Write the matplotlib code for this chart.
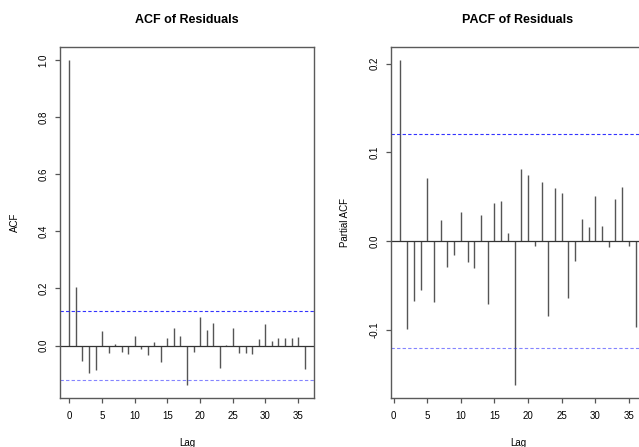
import matplotlib
matplotlib.use("Agg")
import matplotlib.pyplot as plt

plt.rcParams["font.family"] = ["Liberation Sans", "DejaVu Sans"]

# ACF of residuals (lags 0..36)
acf_lags = list(range(0, 37))
acf_vals = [1.0, 0.205, -0.055, -0.097, -0.084, 0.051, -0.026, 0.005, -0.023, -0.030,
            0.033, -0.011, -0.032, 0.013, -0.058, 0.025, 0.061, 0.032, -0.138, -0.022,
            0.101, 0.054, 0.080, -0.080, 0.001, 0.061, -0.027, -0.026, -0.029, 0.022,
            0.075, 0.016, 0.025, 0.025, 0.028, 0.029, -0.081]

# PACF of residuals (lags 1..36)
pacf_lags = list(range(1, 37))
pacf_vals = [0.204, -0.099, -0.067, -0.055, 0.071, -0.069, 0.024, -0.029, -0.016, 0.033,
             -0.024, -0.030, 0.030, -0.071, 0.043, 0.045, 0.009, -0.162, 0.081, 0.075,
             -0.005, 0.067, -0.084, 0.060, 0.054, -0.064, -0.022, 0.025, 0.016, 0.051,
             0.017, -0.007, 0.048, 0.061, -0.005, -0.097]

conf = 0.1205
x_ticks = [0, 5, 10, 15, 20, 25, 30, 35]

W, H = 639, 447
fig = plt.figure(figsize=(W / 100, H / 100), dpi=100)
ax_w, ax_h = 254 / W, 351 / H
ax1 = fig.add_axes([60 / W, 49 / H, ax_w, ax_h])
ax2 = fig.add_axes([391 / W, 49 / H, ax_w, ax_h])


def _r_style(ax, lags, vals, title, ylabel, yticks, ylabels):
    ax.vlines(lags, 0, vals, color="#555555", lw=1.0)
    ax.axhline(0, color="#333333", lw=0.9)
    ax.axhline(conf, color="#3333ff", lw=0.8, ls=(0, (3, 2)))
    ax.axhline(-conf, color="#3333ff", lw=0.8, ls=(0, (3, 2)), alpha=0.6)
    lo = min(min(vals), -conf)
    hi = max(max(vals), conf)
    ex = 0.04 * (hi - lo)
    ax.set_ylim(lo - ex, hi + ex)
    xr = 0.04 * (max(lags) - min(lags))
    ax.set_xlim(min(lags) - xr, max(lags) + xr)
    ax.set_xticks(x_ticks)
    ax.set_yticks(yticks)
    ax.set_yticklabels(ylabels, rotation=90, va="center")
    ax.tick_params(direction="out", length=3.6, width=0.9, color="#555555",
                   labelsize=7)
    ax.tick_params(axis="x", pad=6)
    ax.tick_params(axis="y", pad=4.5)
    for s in ax.spines.values():
        s.set_color("#5a5a5a")
        s.set_linewidth(1.0)
    ax.set_title(title, fontsize=9, fontweight="bold", pad=17)
    ax.set_xlabel("Lag", fontsize=7, va="top")
    ax.set_ylabel(ylabel, fontsize=7)
    ax.xaxis.set_label_coords(0.5, -40 / 351)
    ax.yaxis.set_label_coords(-40.5 / 254, 0.5)


_r_style(ax1, acf_lags, acf_vals, "ACF of Residuals", "ACF",
         [0.0, 0.2, 0.4, 0.6, 0.8, 1.0], ["0.0", "0.2", "0.4", "0.6", "0.8", "1.0"])
_r_style(ax2, pacf_lags, pacf_vals, "PACF of Residuals", "Partial ACF",
         [-0.1, 0.0, 0.1, 0.2], ["-0.1", "0.0", "0.1", "0.2"])

fig.savefig("out.png", dpi=100)
